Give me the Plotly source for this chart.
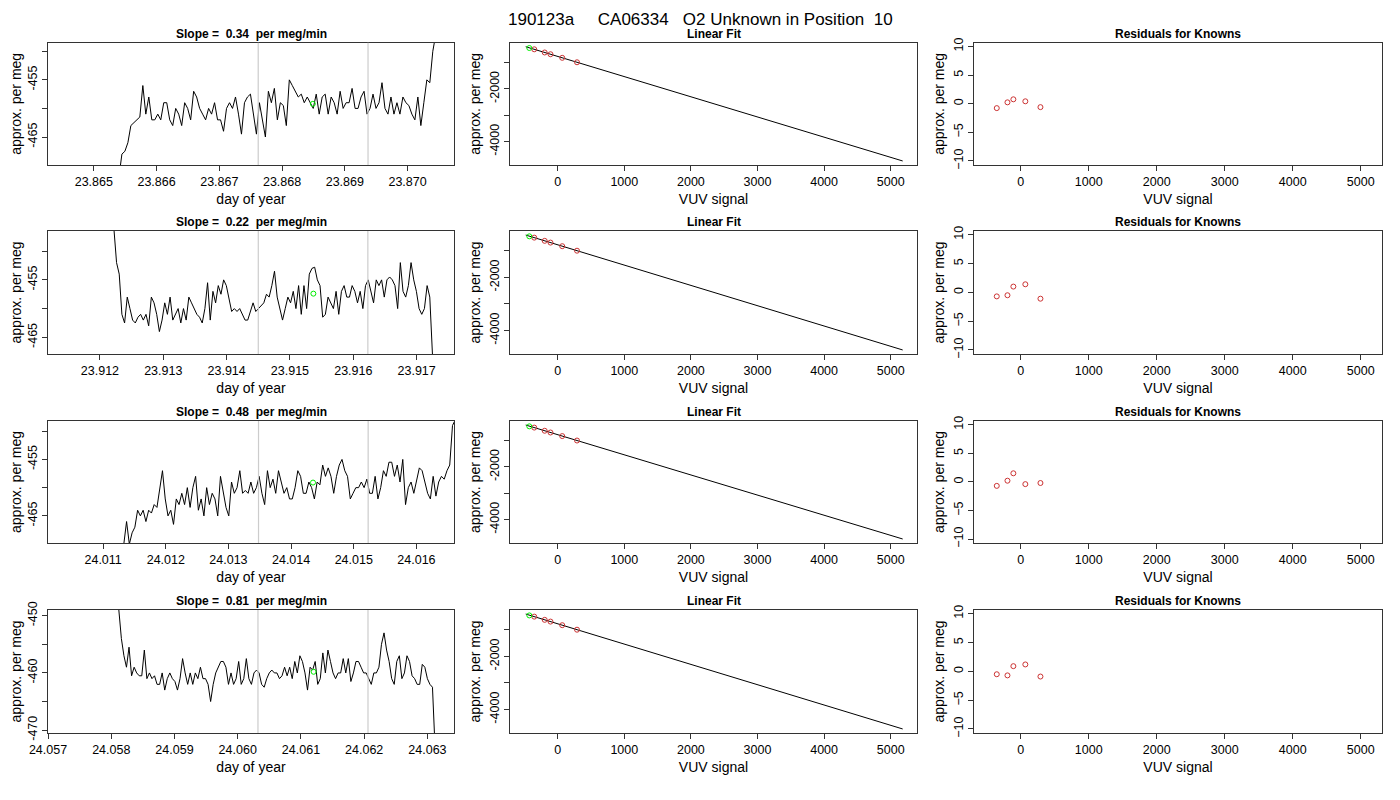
import numpy as np
import plotly.graph_objects as go

title = "190123a     CA06334   O2 Unknown in Position  10"
slopes = ["0.34", "0.22", "0.48", "0.81"]

# time series per row: start/end day, values (per meg)
ts_start = [23.86540, 23.91222, 24.01133, 24.05812]
ts_end = [23.87045, 23.91725, 24.01662, 24.06312]
ts_vals = [
    [-472, -468, -467.5, -466, -463, -462.5, -462, -461.5, -456, -461, -458, -462, -462, -461, -462, -459, -459, -462,
     -463, -460, -461, -463, -459, -460, -462, -457, -458, -460, -461, -462, -460, -461, -459, -462, -462, -464, -460,
     -459, -460, -458, -461, -464.5, -459, -458, -457.5, -461, -464.5, -459, -462, -465, -457, -459, -456.5, -462, -459,
     -459.5, -463, -455, -456, -457, -458, -457.5, -459, -458, -459, -460, -457.5, -461, -458, -457.5, -461, -458, -459,
     -461, -457, -460, -459, -459, -456.5, -460, -460, -458, -457, -461, -460, -457.5, -460, -459, -455.5, -460, -461,
     -458, -461, -459, -461, -458, -459, -459.5, -461, -462, -458, -463, -459, -455, -455.5, -450, -447],
    [-446, -452, -454, -461, -462.5, -458, -460, -462, -462.5, -461.5, -461, -462, -461, -463, -458, -459, -461, -464,
     -462, -459, -461, -458, -462, -461, -460, -462.5, -460, -462, -458, -459, -460, -461, -461.5, -462.5, -460, -455.5,
     -462, -457, -459, -456, -457.5, -455, -456, -458, -460.5, -460, -460.5, -460, -461, -462, -462, -460.5, -459,
     -460.5, -460, -459.5, -459, -457.5, -458, -456, -453.5, -458, -460, -462, -460, -458, -459, -457, -460, -456, -461,
     -456, -460, -454, -453, -452.8, -455, -456, -461.5, -461, -458, -459, -460, -457, -461, -457, -456, -458, -458,
     -456, -457, -459, -457, -460, -456, -455, -457, -459, -455, -456, -455, -458, -455, -454.5, -455, -456, -460, -452,
     -457, -458, -456, -452, -455, -457, -460, -461, -460, -456, -458, -468],
    [-470, -466, -470, -468, -467, -464, -465, -464, -466, -464, -464.5, -463, -463.5, -460, -457, -462, -465, -464,
     -466.5, -462, -463, -461, -463, -460, -463.5, -460, -458, -464, -462, -465, -460, -463, -461, -462, -465, -458,
     -461, -463.5, -465, -459, -461, -460, -457, -461, -460.5, -461, -459, -461, -460, -458, -461, -463, -457, -460,
     -458.5, -461, -457, -459, -461, -460, -462, -462, -460, -457, -458, -461, -461, -459, -460, -462, -459, -459.5,
     -456, -458, -456.5, -458, -461, -458, -456, -455, -457, -458, -462, -461, -460, -460, -459, -460, -458.5, -461,
     -461, -458, -462, -460, -457, -458, -455.5, -455.5, -458, -456, -459, -455, -463, -460, -459, -461, -459, -456.5,
     -457, -459, -461, -462, -458, -461.5, -459, -458, -458.5, -457, -456, -449, -448],
    [-449, -454, -457, -459, -455.5, -460.5, -459, -460, -460.5, -460.5, -456, -461, -460, -461, -460.5, -462, -462,
     -460, -463, -461, -460, -461, -461.5, -463, -461, -457.5, -460, -462, -460, -462, -460, -461, -459, -461, -461,
     -462, -465, -462, -460, -459, -458, -458, -459, -462, -460, -462, -461, -458, -462, -461, -457.5, -461, -462, -460,
     -459.5, -460, -462, -462.5, -461, -460, -459.5, -460, -460, -461, -460.5, -459, -460.5, -459, -461, -458, -460,
     -457, -458, -460, -463, -459, -459.5, -458, -462, -461, -456.5, -460, -456, -458, -460, -461, -460, -460, -457.5,
     -460, -457.5, -461.5, -460, -458, -458, -459, -460, -460, -461, -462, -460, -460, -459, -455, -453, -456, -458,
     -461, -462, -458, -457, -461, -460, -457, -458, -460.5, -461, -462, -462, -458.5, -459, -461, -462, -462.5, -473],
]
ts_xrange = [[23.86427, 23.87074], [23.91118, 23.91759], [24.01012, 24.01660], [24.05700, 24.06342]]
ts_yrange = [[-469.9, -448.5], [-467.9, -446.5], [-469.8, -448.2], [-470.5, -449.0]]
ts_xticks = [[23.865, 23.866, 23.867, 23.868, 23.869, 23.870],
             [23.912, 23.913, 23.914, 23.915, 23.916, 23.917],
             [24.011, 24.012, 24.013, 24.014, 24.015, 24.016],
             [24.057, 24.058, 24.059, 24.060, 24.061, 24.062, 24.063]]
ts_yticks = [[-450, -455, -460, -465], [-450, -455, -460, -465], [-450, -455, -460, -465],
             [-450, -455, -460, -465, -470]]
ts_ylabels = [["", "-455", "", "-465"], ["", "-455", "", "-465"], ["", "-455", "", "-465"],
              ["-450", "", "-460", "", "-470"]]
win_lines = [[23.86762, 23.86937], [23.9145, 23.91623], [24.01348, 24.01523], [24.06032, 24.06206]]
unk_day = [23.86849, 23.91537, 24.01435, 24.0612]
unk_val = [-459.2, -457.4, -459.1, -459.8]

# calibration
std_vuv = [-352, -195, -108, 68, 290]
std_pm = [-506, -626, -692, -828, -997]
unk_vuv = [-426, -426, -426, -426]
unk_pm = [-457, -457, -459, -460]
fit_x = [-480, 5180]
fit_y = [-408, -4732]
resid = [[-0.77, 0.24, 0.77, 0.42, -0.6],
         [-0.7, -0.5, 1.0, 1.4, -1.1],
         [-0.7, 0.2, 1.5, -0.4, -0.2],
         [-0.5, -0.7, 0.9, 1.2, -0.9]]

W, H = 1400, 800
OFF = 8  # page body margin
cols = [(48, 454), (510, 917), (974, 1382)]
rows = [(42.7, 165), (231, 354), (421, 543), (610, 733)]
FONT = "Liberation Sans, Arial, sans-serif"
RED = "#cc3333"
GREEN = "#00ee00"

fig = go.Figure()
layout = dict(width=W, height=H, margin=dict(l=0, r=0, t=0, b=0, autoexpand=False), plot_bgcolor="white",
              paper_bgcolor="white", showlegend=False, font=dict(family=FONT, size=12, color="black"))
annotations = [dict(text=title, x=(700 - OFF) / W, y=1, xref="paper", yref="paper",
                    showarrow=False, font=dict(size=17), xanchor="center", yanchor="top")]
shapes = []


def axis_style(**kw):
    d = dict(showline=True, linecolor="#333", linewidth=1, mirror=True, ticks="outside", ticklen=5,
             tickcolor="#333", showgrid=False, zeroline=False, tickfont=dict(size=12.5), automargin=False)
    d.update(kw)
    return d


n = 0
for r in range(4):
    y0, y1 = rows[r]
    ydom = [1 - (y1 - OFF) / H, 1 - (y0 - OFF) / H]
    for c in range(3):
        n += 1
        xa = "x" if n == 1 else f"x{n}"
        ya = "y" if n == 1 else f"y{n}"
        xdom = [(cols[c][0] - OFF) / W, (cols[c][1] - OFF) / W]
        if c == 0:
            xs = np.linspace(ts_start[r], ts_end[r], len(ts_vals[r]))
            fig.add_trace(go.Scatter(x=xs, y=ts_vals[r], mode="lines", line=dict(color="black", width=1),
                                     xaxis=xa, yaxis=ya))
            fig.add_trace(go.Scatter(x=[unk_day[r]], y=[unk_val[r]], mode="markers",
                                     marker=dict(symbol="circle-open", color=GREEN, size=5), xaxis=xa, yaxis=ya))
            for d in win_lines[r]:
                shapes.append(dict(type="line", xref=xa, yref=f"{ya} domain", x0=d, x1=d, y0=0, y1=1,
                                   line=dict(color="#cccccc", width=1.2)))
            xax = axis_style(domain=xdom, range=ts_xrange[r], tickvals=ts_xticks[r],
                             ticktext=[f"{v:.3f}" for v in ts_xticks[r]], anchor=ya,
                             title=dict(text="day of year", standoff=6))
            yax = axis_style(domain=ydom, range=ts_yrange[r], tickvals=ts_yticks[r], ticktext=ts_ylabels[r],
                             tickangle=-90, anchor=xa, title=dict(text="approx. per meg", standoff=4))
            sub = f"Slope =  {slopes[r]}  per meg/min"
        elif c == 1:
            fig.add_trace(go.Scatter(x=fit_x, y=fit_y, mode="lines", line=dict(color="black", width=1),
                                     xaxis=xa, yaxis=ya))
            fig.add_trace(go.Scatter(x=std_vuv, y=std_pm, mode="markers",
                                     marker=dict(symbol="circle-open", color=RED, size=5), xaxis=xa, yaxis=ya))
            fig.add_trace(go.Scatter(x=[unk_vuv[r]], y=[unk_pm[r]], mode="markers",
                                     marker=dict(symbol="circle-open", color=GREEN, size=5), xaxis=xa, yaxis=ya))
            xax = axis_style(domain=xdom, range=[-716, 5395], tickvals=[0, 1000, 2000, 3000, 4000, 5000],
                             anchor=ya, title=dict(text="VUV signal", standoff=6))
            yax = axis_style(domain=ydom, range=[-4884, -256], tickvals=[-1000, -2000, -3000, -4000],
                             ticktext=["", "-2000", "", "-4000"], tickangle=-90, anchor=xa,
                             title=dict(text="approx. per meg", standoff=4))
            sub = "Linear Fit"
        else:
            fig.add_trace(go.Scatter(x=std_vuv, y=resid[r], mode="markers",
                                     marker=dict(symbol="circle-open", color=RED, size=5), xaxis=xa, yaxis=ya))
            xax = axis_style(domain=xdom, range=[-687, 5313], tickvals=[0, 1000, 2000, 3000, 4000, 5000],
                             anchor=ya, title=dict(text="VUV signal", standoff=6))
            yax = axis_style(domain=ydom, range=[-10.7, 10.65], tickvals=[10, 5, 0, -5, -10],
                             tickangle=-90, anchor=xa, title=dict(text="approx. per meg", standoff=4))
            sub = "Residuals for Knowns"
        layout["xaxis" if n == 1 else f"xaxis{n}"] = xax
        layout["yaxis" if n == 1 else f"yaxis{n}"] = yax
        annotations.append(dict(text=f"<b>{sub}</b>", x=(xdom[0] + xdom[1]) / 2, y=ydom[1], xref="paper",
                                yref="paper", xanchor="center", yanchor="middle", yshift=9, showarrow=False,
                                font=dict(size=12)))

layout["annotations"] = annotations
layout["shapes"] = shapes
fig.update_layout(**layout)
fig.write_html("out.html")
